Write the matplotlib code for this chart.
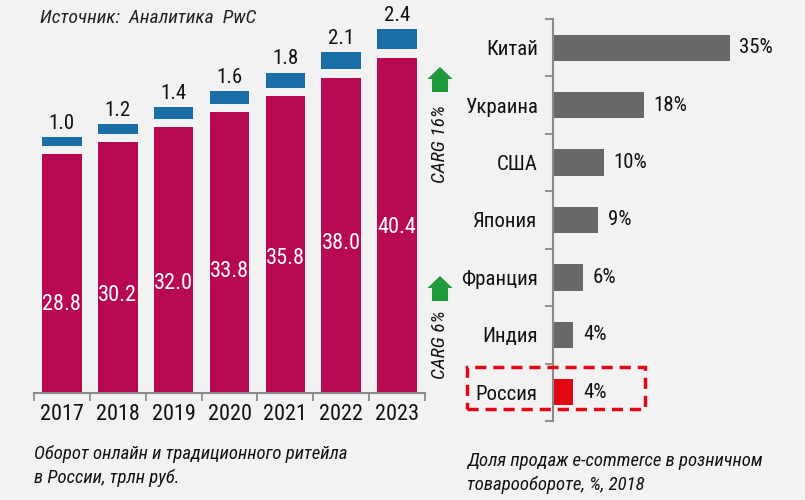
import numpy as np
import matplotlib
matplotlib.use('Agg')
import matplotlib.pyplot as plt
from matplotlib import font_manager as fm
from matplotlib.patches import Rectangle, FancyArrow

# Data
years = ['2017', '2018', '2019', '2020', '2021', '2022', '2023']
retail_offline = [28.8, 30.2, 32.0, 33.8, 35.8, 38.0, 40.4]
retail_online = [1.0, 1.2, 1.4, 1.6, 1.8, 2.1, 2.4]
countries = ['Китай', 'Украина', 'США', 'Япония', 'Франция', 'Индия', 'Россия']
ecom_share = [35, 18, 10, 9, 6, 4, 4]

# pick a narrow font if there is one
names = {f.name for f in fm.fontManager.ttflist}
FONT = 'DejaVu Sans'
STRETCH = 'normal'
for cand in ['Liberation Sans Narrow', 'Roboto Condensed', 'Open Sans Condensed',
             'Noto Sans Condensed', 'DejaVu Sans Condensed']:
    if cand in names:
        FONT = cand
        break
else:
    for f in fm.fontManager.ttflist:
        if f.name in ('Noto Sans', 'DejaVu Sans', 'Roboto', 'Open Sans') and \
                str(f.stretch) in ('condensed', 'semi-condensed', 'extra-condensed', '75', '87', '62'):
            FONT = f.name
            STRETCH = f.stretch
            break
plt.rcParams['font.family'] = [FONT, 'DejaVu Sans']
plt.rcParams['font.stretch'] = STRETCH

BG = '#f2f2f2'
MAGENTA = '#b70a52'
BLUE = '#1a6ea6'
GREY = '#686868'
RED = '#e30613'
GREEN = '#1e9a3c'
AXC = '#8a8a8a'
W, H = 805, 500

fig = plt.figure(figsize=(8.05, 5.0), dpi=100, facecolor=BG)

# ---- left: retail turnover ----
ax = fig.add_axes([34 / W, (H - 393) / H, 391 / W, (393 - 20) / H])
ax.set_facecolor('none')
x = np.arange(len(years))
gap = 1.0
ax.bar(x, retail_offline, width=0.71, color=MAGENTA)
ax.bar(x, retail_online, width=0.71, bottom=np.array(retail_offline) + gap, color=BLUE)
for xi, off, on in zip(x, retail_offline, retail_online):
    ax.text(xi, 0.8 * off - 12.4, f'{off:.1f}', ha='center', va='center',
            color='white', fontsize=16)
    ax.annotate(f'{on:.1f}', (xi, off + gap + on), xytext=(0, 3),
                textcoords='offset points', ha='center', va='bottom',
                color='#111111', fontsize=15)
ax.set_xlim(-0.5, len(years) - 0.5)
ax.set_ylim(0, 373 / 8.3)
ax.set_xticks(x)
ax.set_xticklabels(years, fontsize=16, color='#111111')
ax.set_xticks(np.arange(-0.5, len(years)), minor=True)
ax.tick_params(axis='x', which='major', length=0, pad=8)
ax.tick_params(axis='x', which='minor', length=6, width=1.3, color=AXC)
ax.set_yticks([])
for s in ('top', 'right', 'left'):
    ax.spines[s].set_visible(False)
ax.spines['bottom'].set_color(AXC)
ax.spines['bottom'].set_linewidth(1.5)

# ---- right: e-commerce share ----
ax2 = fig.add_axes([553 / W, (H - 421) / H, (800 - 553) / W, (421 - 19) / H])
ax2.set_facecolor('none')
y = np.arange(len(countries))
colors = [GREY] * (len(countries) - 1) + [RED]
ax2.barh(y, ecom_share, height=0.46, color=colors)
for yi, v in zip(y, ecom_share):
    ax2.annotate(f'{v}%', (v, yi), xytext=(7, 0), textcoords='offset points',
                 ha='left', va='center', color='#111111', fontsize=15)
ax2.set_ylim(len(countries) - 0.5, -0.5)
ax2.set_xlim(0, 247 / 5.05)
ax2.set_yticks(y)
ax2.set_yticklabels(countries, fontsize=15, color='#111111')
ax2.set_yticks(np.arange(-0.5, len(countries)), minor=True)
ax2.tick_params(axis='y', which='major', length=0, pad=11)
ax2.tick_params(axis='y', which='minor', length=6, width=1.3, color=AXC)
ax2.set_xticks([])
for s in ('top', 'right', 'bottom'):
    ax2.spines[s].set_visible(False)
ax2.spines['left'].set_color(AXC)
ax2.spines['left'].set_linewidth(1.5)

# dashed box round Russia
fig.patches.append(Rectangle((467 / W, (H - 409) / H), (645 - 467) / W, 42 / H,
                             transform=fig.transFigure, fill=False, edgecolor=RED,
                             linestyle=(0, (3.2, 2)), linewidth=2.5))

# CAGR arrows and labels
for ytop, ytxt, txt in [(67, 144, 'CARG 16%'), (276, 345, 'CARG 6%')]:
    fig.patches.append(FancyArrow(440 / W, (H - ytop - 25) / H, 0, 25 / H,
                                  width=10 / H, head_width=25 / W, head_length=12 / H,
                                  length_includes_head=True, transform=fig.transFigure,
                                  color=GREEN, linewidth=0))
    fig.text(440 / W, (H - ytxt) / H, txt, rotation=90, ha='center', va='center',
             fontsize=14, style='italic', color='#111111')

# titles
fig.text(40 / W, (H - 18) / H, 'Источник:  Аналитика  PwC', ha='left', va='center',
         fontsize=14, style='italic', color='#222222')
fig.text(34 / W, (H - 445) / H, 'Оборот онлайн и традиционного ритейла\nв России, трлн руб.',
         ha='left', va='top', fontsize=13.5, style='italic', color='#111111', linespacing=1.45)
fig.text(467 / W, (H - 452) / H, 'Доля продаж e-commerce в розничном\nтоварообороте, %, 2018',
         ha='left', va='top', fontsize=13.5, style='italic', color='#111111', linespacing=1.45)

fig.savefig('out.png', dpi=100, facecolor=BG)
